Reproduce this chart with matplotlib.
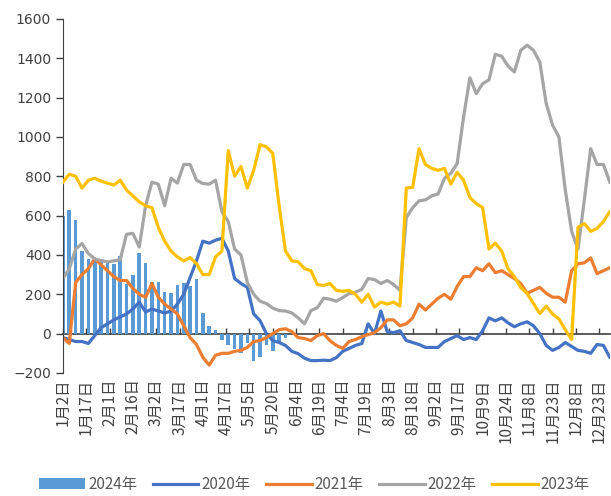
import numpy as np
import matplotlib
matplotlib.use("Agg")
import matplotlib.pyplot as plt

plt.rcParams['font.family'] = ['Noto Sans CJK SC', 'DejaVu Sans']

# 交易日序号（每3个交易日取一个点）
days = np.arange(0, 259, 3)
tick_pos = np.arange(0, 254, 11)
tick_labels = ['1月2日', '1月17日', '2月1日', '2月16日', '3月2日', '3月17日', '4月1日',
               '4月17日', '5月5日', '5月20日', '6月4日', '6月19日', '7月4日', '7月19日',
               '8月3日', '8月18日', '9月2日', '9月17日', '10月9日', '10月24日', '11月8日',
               '11月23日', '12月8日', '12月23日']

y2024 = [600, 630, 580, 420, 380, 385, 380, 360, 355, 395, 250, 300, 410, 360, 260, 265,
         210, 205, 245, 255, 240, 280, 105, 40, 20, -30, -60, -80, -100, -50, -140, -120,
         -60, -90, -40, -20]

y2020 = [-20, -30, -40, -40, -50, -10, 30, 50, 70, 85, 100, 125, 160, 110, 125, 115,
         105, 115, 150, 200, 285, 370, 470, 460, 475, 485, 420, 280, 255, 235, 100, 66,
         0, -36, -45, -60, -90, -102, -125, -137, -137, -135, -137, -122, -90, -75, -60, -50,
         50, 0, 115, 10, 5, 15, -35, -45, -55, -70, -70, -70, -40, -25, -10, -30,
         -20, -30, 15, 80, 65, 80, 55, 35, 50, 60, 40, 0, -60, -85, -70, -45,
         -65, -85, -90, -100, -55, -60, -120]

y2021 = [-20, -50, 260, 300, 330, 380, 350, 320, 290, 270, 270, 230, 200, 185, 255, 185,
         150, 125, 100, 40, -20, -55, -120, -160, -110, -100, -100, -90, -85, -70, -40, -35,
         -20, 0, 20, 25, 10, -20, -25, -35, -10, 0, -36, -60, -75, -40, -30, -15,
         -5, 5, 30, 70, 70, 40, 50, 80, 150, 120, 150, 180, 200, 175, 240, 290,
         290, 335, 320, 355, 310, 320, 300, 280, 255, 205, 220, 235, 205, 185, 185, 160,
         320, 355, 360, 385, 305, 320, 335]

y2022 = [280, 330, 430, 458, 407, 380, 371, 365, 370, 375, 505, 510, 440, 650, 770, 760,
         650, 790, 765, 860, 860, 780, 763, 760, 780, 620, 570, 430, 400, 260, 200, 165,
         153, 130, 117, 115, 105, 80, 50, 117, 132, 180, 175, 165, 183, 204, 210, 225,
         280, 275, 255, 270, 250, 220, 590, 640, 675, 680, 700, 710, 790, 815, 865, 1100,
         1300, 1220, 1270, 1290, 1420, 1410, 1360, 1330, 1440, 1466, 1440, 1380, 1170, 1060, 1000, 730,
         520, 430, 680, 940, 860, 860, 770]

y2023 = [770, 810, 800, 740, 780, 790, 775, 765, 755, 780, 730, 700, 670, 650, 640, 540,
         470, 420, 390, 370, 387, 356, 300, 300, 390, 420, 930, 800, 850, 740, 830, 960,
         950, 916, 650, 420, 370, 365, 330, 320, 250, 245, 255, 220, 215, 220, 200, 160,
         200, 135, 160, 150, 160, 140, 740, 743, 940, 860, 840, 830, 840, 760, 820, 780,
         692, 661, 641, 430, 460, 420, 330, 290, 234, 204, 153, 102, 140, 100, 75, 20,
         -30, 540, 560, 520, 535, 570, 620]

fig = plt.figure(figsize=(6.11, 4.96), dpi=100)
ax = fig.add_axes([0.103, 0.248, 0.895, 0.714])

bars = ax.bar(days[:len(y2024)], y2024, width=1.7, color='#5B9BD5', label='2024年', zorder=1)
l0, = ax.plot(days, y2020, color='#4472C4', lw=2.3, label='2020年', zorder=2)
l1, = ax.plot(days, y2021, color='#ED7D31', lw=2.3, label='2021年', zorder=2)
l2, = ax.plot(days, y2022, color='#A5A5A5', lw=2.3, label='2022年', zorder=2)
l3, = ax.plot(days, y2023, color='#FFC000', lw=2.3, label='2023年', zorder=3)

ax.set_xlim(0, 258)
ax.set_ylim(-200, 1600)
ax.set_yticks(np.arange(-200, 1601, 200))
ax.tick_params(axis='y', direction='out', length=5, width=1, colors='#404040',
               labelsize=10, labelcolor='#404040')
for t in ax.get_yticklabels():
    t.set_family('DejaVu Sans')

for s in ['top', 'right', 'bottom']:
    ax.spines[s].set_visible(False)
ax.spines['left'].set_color('#404040')

# 日期标签放在图底部，坐标轴线画在0处
ax.set_xticks(tick_pos)
ax.set_xticklabels(tick_labels, rotation=90, fontsize=11, color='#404040')
ax.tick_params(axis='x', length=0, pad=4)

zero_axis = ax.secondary_xaxis(200 / 1800)
zero_axis.set_xticks(tick_pos)
zero_axis.set_xticklabels([])
zero_axis.tick_params(axis='x', direction='in', length=4, width=1, colors='#404040')
zero_axis.spines['bottom'].set_color('#404040')
zero_axis.spines['bottom'].set_linewidth(1.2)

fig.legend(handles=[bars, l0, l1, l2, l3], loc='lower center', bbox_to_anchor=(0.515, -0.022),
           ncol=5, frameon=False, fontsize=11, handlelength=3.0, handleheight=0.7,
           columnspacing=1.0, handletextpad=0.2, labelcolor='#595959')

fig.savefig('out.png', dpi=100)
